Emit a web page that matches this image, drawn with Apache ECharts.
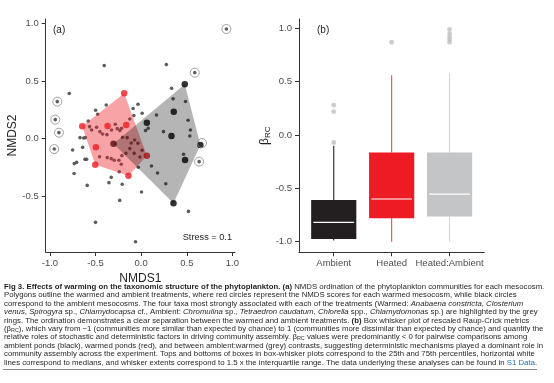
<!DOCTYPE html>
<html><head><meta charset="utf-8">
<script src="https://cdn.jsdelivr.net/npm/echarts@6/dist/echarts.min.js"></script>
<style>html,body{margin:0;padding:0;background:#fff}#c{width:554px;height:383px}</style>
</head><body><div id="c"></div>
<script>
// ---------- data ----------
const tickValues = [-1, -0.5, 0, 0.5, 1];
const categories = ['Ambient', 'Heated', 'Heated:Ambient'];

// NMDS scores of taxa (small grey points)
const taxaScores = [
  [-0.405, 0.633], [0.276, 0.642], [-0.788, 0.391], [0.333, 0.437], [0.350, 0.345], [0.486, 0.322],
  [-0.383, 0.292], [-0.499, 0.246], [-0.477, 0.211], [-0.035, 0.298], [-0.088, 0.262], [0.011, 0.220],
  [-0.080, 0.200], [-0.124, 0.171], [0.168, 0.205], [0.514, 0.160], [-0.580, 0.153], [0.077, 0.090],
  [0.048, 0.070], [0.244, 0.061], [0.540, 0.075], [-0.565, 0.104], [-0.543, 0.075], [-0.488, 0.099],
  [-0.452, 0.061], [-0.423, 0.041], [-0.375, 0.035], [-0.324, 0.075], [-0.284, 0.125], [-0.262, 0.087],
  [-0.233, 0.070], [-0.215, 0.090], [-0.670, 0.009], [-0.630, 0.006], [-0.612, 0.009], [-0.204, 0.012],
  [-0.153, 0.009], [-0.109, -0.037], [-0.072, -0.011], [-0.036, -0.040], [-0.751, -0.098], [-0.641, -0.075],
  [-0.124, -0.086], [-0.076, -0.127], [-0.167, -0.127], [-0.211, -0.147], [0.011, -0.101], [-0.014, -0.159],
  [-0.707, -0.205], [-0.733, -0.216], [-0.616, -0.179], [-0.598, -0.179], [-0.456, -0.156], [-0.372, -0.164],
  [-0.328, -0.173], [-0.295, -0.187], [-0.244, -0.187], [0.533, 0.023], [0.464, -0.135], [0.113, -0.237],
  [0.179, -0.297], [-0.032, -0.248], [-0.240, -0.286], [-0.218, -0.222], [-0.735, -0.302], [-0.328, -0.335],
  [-0.353, -0.381], [-0.208, -0.395], [0.270, -0.390], [-0.591, -0.405], [0.004, -0.462], [-0.235, -0.535],
  [0.518, -0.630], [-0.500, -0.725], [-0.062, -0.893]
];
// taxa most strongly associated with treatments (ringed)
const ringedTaxa = [
  [0.934, 0.950], [0.587, 0.572], [-0.919, 0.321], [-0.941, 0.165],
  [-0.901, 0.052], [-0.952, -0.090], [0.667, -0.038], [0.635, -0.199]
];
// mesocosm scores
const warmedMeso = [
  [-0.186, 0.393], [-0.646, 0.107], [-0.368, 0.110], [-0.164, 0.118],
  [-0.496, -0.075], [-0.503, -0.225], [-0.139, -0.321], [0.062, -0.147]
];
const ambientMeso = [
  [0.478, 0.471], [0.357, 0.234], [0.062, 0.139], [0.332, 0.023],
  [-0.303, -0.043], [0.649, -0.055], [0.481, -0.185], [0.354, -0.560]
];
const stressValue = 0.1;

// Box plot statistics (panel b)
const whiskerLow = [-0.99, -1.00, -1.00];
const boxQ1 = [-0.975, -0.78, -0.765];
const boxMedian = [-0.82, -0.60, -0.555];
const boxQ3 = [-0.61, -0.165, -0.165];
const whiskerHigh = [-0.10, 0.56, 0.58];
const outlierCat = [1, 1, 1, 2, 3, 3, 3, 3, 3];
const outlierVal = [0.28, 0.22, -0.07, 0.87, 0.99, 0.95, 0.92, 0.895, 0.87];

const captionLines = [
  '{b|Fig 3. Effects of warming on the taxonomic structure of the phytoplankton.} {b|(a)} NMDS ordination of the phytoplankton communities for each mesocosm.',
  'Polygons outline the warmed and ambient treatments, where red circles represent the NMDS scores for each warmed mesocosm, while black circles',
  'correspond to the ambient mesocosms. The four taxa most strongly associated with each of the treatments (Warmed: {i|Anabaena constricta}, {i|Closterium}',
  '{i|venus}, {i|Spirogyra} sp., {i|Chlamydocapsa} cf., Ambient: {i|Chromulina} sp., {i|Tetraedron caudatum}, {i|Chlorella} spp., {i|Chlamydomonas} sp.) are highlighted by the grey',
  'rings. The ordination demonstrates a clear separation between the warmed and ambient treatments. {b|(b)} Box whisker plot of rescaled Raup-Crick metrics',
  '(β{s|RC}), which vary from −1 (communities more similar than expected by chance) to 1 (communities more dissimilar than expected by chance) and quantify the',
  'relative roles of stochastic and deterministic factors in driving community assembly. β{s|RC} values were predominantly < 0 for pairwise comparisons among',
  'ambient ponds (black), warmed ponds (red), and between ambient:warmed (grey) contrasts, suggesting deterministic mechanisms played a dominant role in',
  'community assembly across the experiment. Tops and bottoms of boxes in box-whisker plots correspond to the 25th and 75th percentiles, horizontal white',
  'lines correspond to medians, and whisker extents correspond to 1.5 x the interquartile range. The data underlying these analyses can be found in {l|S1 Data}.'
];

// ---------- helpers ----------
function convexHull(pts) {
  const p = pts.slice().sort((a, b) => a[0] - b[0] || a[1] - b[1]);
  const cross = (o, a, b) => (a[0] - o[0]) * (b[1] - o[1]) - (a[1] - o[1]) * (b[0] - o[0]);
  const lower = [], upper = [];
  for (const q of p) { while (lower.length >= 2 && cross(lower[lower.length - 2], lower[lower.length - 1], q) <= 0) lower.pop(); lower.push(q); }
  for (let i = p.length - 1; i >= 0; i--) { const q = p[i]; while (upper.length >= 2 && cross(upper[upper.length - 2], upper[upper.length - 1], q) <= 0) upper.pop(); upper.push(q); }
  lower.pop(); upper.pop();
  return lower.concat(upper);
}
const FONT = "'Liberation Sans', Arial, Helvetica, sans-serif";
const CAP = 7.8;
const fmt1 = v => (Math.abs(v) < 1e-9 ? 0 : v).toFixed(1);

const boxData = categories.map((c, i) => [i + 1, whiskerLow[i], boxQ1[i], boxMedian[i], boxQ3[i], whiskerHigh[i]]);
const boxFill = ['#231f20', '#ed1c24', '#c4c5c7'];
const whiskerColor = ['#231f20', '#e8474d', '#d6d6d6'];
const halfW = 0.39;

function polygonSeries(pts, fill, z) {
  const hull = convexHull(pts);
  return {
    type: 'custom', xAxisIndex: 0, yAxisIndex: 0, z: z, silent: true,
    data: [hull[0]],
    renderItem: (params, api) => ({
      type: 'polygon',
      shape: { points: hull.map(p => api.coord(p)) },
      style: { fill: fill, stroke: 'none' }
    })
  };
}

const axisCommon = {
  axisLine: { show: true, onZero: false, lineStyle: { color: '#333', width: 1 } },
  splitLine: { show: false }
};

// ---------- chart ----------
const chart = echarts.init(document.getElementById('c'), null, { renderer: 'canvas' });
const captionGraphics = captionLines.map((t, k) => ({
  type: 'text', x: 4, y: 286.7 + k * 8.43,
  style: {
    text: t, fill: '#231f20', fontSize: CAP, fontFamily: FONT, verticalAlign: 'middle',
    rich: {
      b: { fontSize: CAP, fontFamily: FONT, fontWeight: 'bold', fill: '#231f20' },
      i: { fontSize: CAP, fontFamily: FONT, fontStyle: 'italic', fill: '#231f20' },
      s: { fontSize: 5.4, fontFamily: FONT, fill: '#231f20', verticalAlign: 'bottom', lineHeight: 6 },
      l: { fontSize: CAP, fontFamily: FONT, fill: '#1f6db5' }
    }
  }
}));

chart.setOption({
  animation: false,
  backgroundColor: '#ffffff',
  grid: [
    { left: 45.7, top: 19, width: 189.3, height: 233 },
    { left: 299, top: 19, width: 185.3, height: 233.3 }
  ],
  xAxis: [
    Object.assign({}, axisCommon, {
      type: 'value', gridIndex: 0, min: -1.046, max: 1.028,
      axisTick: { show: true, customValues: tickValues, length: 4, lineStyle: { color: '#333' } },
      axisLabel: { customValues: tickValues, formatter: fmt1, fontSize: 9.5, color: '#4d4d4d', margin: 6, fontFamily: FONT },
      name: 'NMDS1', nameLocation: 'middle', nameGap: 15,
      nameTextStyle: { fontSize: 12, color: '#231f20', fontFamily: FONT }
    }),
    Object.assign({}, axisCommon, {
      type: 'value', gridIndex: 1, min: 0.4, max: 3.6,
      axisTick: { show: true, customValues: [1, 2, 3], length: 4, lineStyle: { color: '#333' } },
      axisLabel: { customValues: [1, 2, 3], formatter: v => categories[Math.round(v) - 1] || '', fontSize: 9.5, color: '#4d4d4d', margin: 6, fontFamily: FONT }
    })
  ],
  yAxis: [
    Object.assign({}, axisCommon, {
      type: 'value', gridIndex: 0, min: -0.982, max: 1.037,
      axisTick: { show: true, customValues: tickValues, length: 4, lineStyle: { color: '#333' } },
      axisLabel: { customValues: tickValues, formatter: fmt1, fontSize: 9.5, color: '#4d4d4d', margin: 7, fontFamily: FONT },
      name: 'NMDS2', nameLocation: 'middle', nameGap: 25, nameRotate: 90,
      nameTextStyle: { fontSize: 12, color: '#231f20', fontFamily: FONT }
    }),
    Object.assign({}, axisCommon, {
      type: 'value', gridIndex: 1, min: -1.0997, max: 1.088,
      axisTick: { show: true, customValues: tickValues, length: 4, lineStyle: { color: '#333' } },
      axisLabel: { customValues: tickValues, formatter: fmt1, fontSize: 9.5, color: '#4d4d4d', margin: 7, fontFamily: FONT },
      name: '{g|β}{s|RC}', nameLocation: 'middle', nameGap: 23, nameRotate: 90,
      nameTextStyle: {
        fontSize: 12, color: '#231f20', fontFamily: FONT,
        rich: {
          g: { fontSize: 12, fontFamily: FONT, color: '#231f20' },
          s: { fontSize: 8, fontFamily: FONT, color: '#231f20', verticalAlign: 'bottom', padding: [6, 0, 0, 0] }
        }
      }
    })
  ],
  graphic: [
    { type: 'text', x: 53, y: 30, style: { text: '(a)', fontSize: 10, fontFamily: FONT, fill: '#231f20', verticalAlign: 'middle' } },
    { type: 'text', x: 317, y: 30.5, style: { text: '(b)', fontSize: 10, fontFamily: FONT, fill: '#231f20', verticalAlign: 'middle' } },
    { type: 'text', x: 232, y: 237.7, style: { text: 'Stress = ' + stressValue, fontSize: 9.2, fontFamily: FONT, fill: '#231f20', align: 'right', verticalAlign: 'middle' } },
    { type: 'line', shape: { x1: 3, y1: 369.5, x2: 537, y2: 369.5 }, style: { stroke: '#8a8a8a', lineWidth: 1 } }
  ].concat(captionGraphics),
  series: [
    { type: 'scatter', xAxisIndex: 0, yAxisIndex: 0, z: 2, symbolSize: 3.6, silent: true,
      itemStyle: { color: '#4d4d4d', opacity: 0.9 }, data: taxaScores.concat(ringedTaxa.slice(0, 6), ringedTaxa.slice(7)) },
    { type: 'scatter', xAxisIndex: 0, yAxisIndex: 0, z: 2, symbolSize: 6.5, silent: true,
      itemStyle: { color: '#ed1c24' }, data: warmedMeso },
    { type: 'scatter', xAxisIndex: 0, yAxisIndex: 0, z: 2, symbolSize: 6.5, silent: true,
      itemStyle: { color: '#000000' }, data: ambientMeso },
    polygonSeries(warmedMeso, 'rgba(237,28,36,0.4)', 3),
    polygonSeries(ambientMeso, 'rgba(0,0,0,0.29)', 4),
    { type: 'scatter', xAxisIndex: 0, yAxisIndex: 0, z: 5, symbolSize: 9, silent: true,
      itemStyle: { color: 'rgba(0,0,0,0)', borderColor: '#8c8c8c', borderWidth: 1 }, data: ringedTaxa },
    {
      type: 'custom', xAxisIndex: 1, yAxisIndex: 1, z: 2, silent: true,
      data: boxData,
      encode: { x: 0, y: [1, 2, 3, 4, 5] },
      renderItem: (params, api) => {
        const i = params.dataIndex;
        const x = api.value(0);
        const lo = api.coord([x, api.value(1)]);
        const q1 = api.coord([x, api.value(2)]);
        const md = api.coord([x, api.value(3)]);
        const q3 = api.coord([x, api.value(4)]);
        const hi = api.coord([x, api.value(5)]);
        const left = api.coord([x - halfW, 0])[0];
        const right = api.coord([x + halfW, 0])[0];
        const mIn = 2.2;
        return {
          type: 'group',
          children: [
            { type: 'line', shape: { x1: lo[0], y1: lo[1], x2: q1[0], y2: q1[1] }, style: { stroke: whiskerColor[i], lineWidth: 1.1 } },
            { type: 'line', shape: { x1: q3[0], y1: q3[1], x2: hi[0], y2: hi[1] }, style: { stroke: whiskerColor[i], lineWidth: 1.1 } },
            { type: 'rect', shape: { x: left, y: q3[1], width: right - left, height: q1[1] - q3[1] }, style: { fill: boxFill[i], stroke: 'none' } },
            { type: 'line', shape: { x1: left + mIn, y1: md[1], x2: right - mIn, y2: md[1] }, style: { stroke: '#ffffff', lineWidth: 1.2 } }
          ]
        };
      }
    },
    { type: 'scatter', xAxisIndex: 1, yAxisIndex: 1, z: 3, symbolSize: 4.8, silent: true,
      itemStyle: { color: '#bfbfbf' }, data: outlierCat.map((c, k) => [c, outlierVal[k]]) }
  ]
});
</script>
</body></html>
